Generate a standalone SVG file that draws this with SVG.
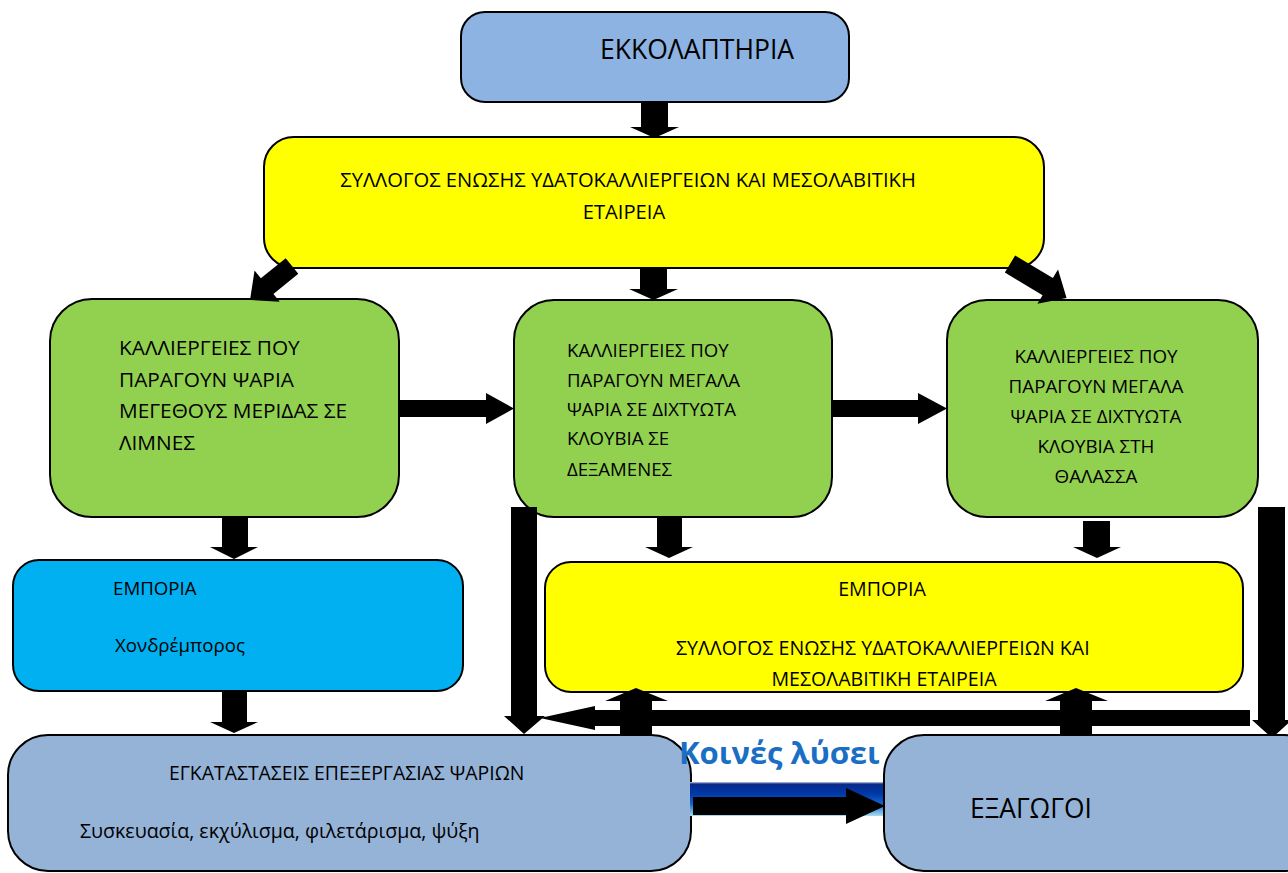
<svg xmlns="http://www.w3.org/2000/svg" width="1288" height="873" viewBox="0 0 1288 873">
<defs>
<style>
.box{stroke:#000;stroke-width:2}
.lb{fill:#8db3e2}
.ye{fill:#ffff00}
.gr{fill:#92d050}
.cy{fill:#00b0f0}
.bl{fill:#95b3d7}
text{font-family:"Open Sans","Noto Sans","DejaVu Sans",sans-serif;fill:#000}
.arr{fill:#000}
</style>
<linearGradient id="bar" x1="0" y1="0" x2="0" y2="1">
<stop offset="0" stop-color="#c8d0e0"/>
<stop offset="0.06" stop-color="#0a2a8a"/>
<stop offset="0.35" stop-color="#0038a8"/>
<stop offset="0.65" stop-color="#1566cc"/>
<stop offset="1" stop-color="#a8dcf0"/>
</linearGradient>
</defs>
<rect width="1288" height="873" fill="#fff"/>

<g id="hatcheries">
<rect class="box lb" x="461" y="12" width="388" height="90" rx="24"/>
<text x="600" y="59" font-size="26.5">ΕΚΚΟΛΑΠΤΗΡΙΑ</text>
</g>

<g id="association">
<rect class="box ye" x="264" y="137" width="780" height="131" rx="30"/>
<text x="628" y="187" font-size="20.2" text-anchor="middle">ΣΥΛΛΟΓΟΣ ΕΝΩΣΗΣ ΥΔΑΤΟΚΑΛΛΙΕΡΓΕΙΩΝ ΚΑΙ ΜΕΣΟΛΑΒΙΤΙΚΗ</text>
<text x="624" y="219" font-size="20.2" text-anchor="middle">ΕΤΑΙΡΕΙΑ</text>
</g>

<g id="farms-lakes">
<rect class="box gr" x="50" y="299" width="349" height="218" rx="42"/>
<text x="119" y="355" font-size="20.8">ΚΑΛΛΙΕΡΓΕΙΕΣ ΠΟΥ</text>
<text x="119" y="387" font-size="20.8">ΠΑΡΑΓΟΥΝ ΨΑΡΙΑ</text>
<text x="119" y="418" font-size="20.8">ΜΕΓΕΘΟΥΣ ΜΕΡΙΔΑΣ ΣΕ</text>
<text x="119" y="450" font-size="20.8">ΛΙΜΝΕΣ</text>
</g>

<g id="farms-tanks">
<rect class="box gr" x="514" y="300" width="318" height="217" rx="40"/>
<text x="567" y="357" font-size="18.6">ΚΑΛΛΙΕΡΓΕΙΕΣ ΠΟΥ</text>
<text x="567" y="387" font-size="18.6">ΠΑΡΑΓΟΥΝ ΜΕΓΑΛΑ</text>
<text x="567" y="416" font-size="18.6">ΨΑΡΙΑ ΣΕ ΔΙΧΤΥΩΤΑ</text>
<text x="567" y="445" font-size="18.6">ΚΛΟΥΒΙΑ ΣΕ</text>
<text x="567" y="476" font-size="18.6">ΔΕΞΑΜΕΝΕΣ</text>
</g>

<g id="farms-sea">
<rect class="box gr" x="947" y="300" width="311" height="217" rx="40"/>
<text x="1096" y="363" font-size="18.8" text-anchor="middle">ΚΑΛΛΙΕΡΓΕΙΕΣ ΠΟΥ</text>
<text x="1096" y="393" font-size="18.8" text-anchor="middle">ΠΑΡΑΓΟΥΝ ΜΕΓΑΛΑ</text>
<text x="1096" y="423" font-size="18.8" text-anchor="middle">ΨΑΡΙΑ ΣΕ ΔΙΧΤΥΩΤΑ</text>
<text x="1096" y="453" font-size="18.8" text-anchor="middle">ΚΛΟΥΒΙΑ ΣΤΗ</text>
<text x="1096" y="483" font-size="18.8" text-anchor="middle">ΘΑΛΑΣΣΑ</text>
</g>

<g id="trade-wholesale">
<rect class="box cy" x="13" y="560" width="450" height="131" rx="26"/>
<text x="113" y="595" font-size="18.7">ΕΜΠΟΡΙΑ</text>
<text x="115" y="652" font-size="18.7">Χονδρέμπορος</text>
</g>

<g id="trade-association">
<rect class="box ye" x="545" y="562" width="698" height="130" rx="26"/>
<text x="882" y="596" font-size="19.6" text-anchor="middle">ΕΜΠΟΡΙΑ</text>
<text x="676" y="655" font-size="19.6">ΣΥΛΛΟΓΟΣ ΕΝΩΣΗΣ ΥΔΑΤΟΚΑΛΛΙΕΡΓΕΙΩΝ ΚΑΙ</text>
<text x="884" y="686" font-size="19.6" text-anchor="middle">ΜΕΣΟΛΑΒΙΤΙΚΗ ΕΤΑΙΡΕΙΑ</text>
</g>

<g id="processing">
<rect class="box bl" x="8" y="735" width="683" height="136" rx="40"/>
<text x="169" y="780" font-size="19.4">ΕΓΚΑΤΑΣΤΑΣΕΙΣ ΕΠΕΞΕΡΓΑΣΙΑΣ ΨΑΡΙΩΝ</text>
<text x="80" y="838" font-size="19.6">Συσκευασία, εκχύλισμα, φιλετάρισμα, ψύξη</text>
</g>

<g id="banner">
<rect x="690" y="782" width="195" height="34" fill="url(#bar)"/>
<text x="679" y="764" font-size="31" font-weight="bold" style="fill:#1a6fc4">Κοινές λύσει</text>
</g>

<g id="connectors">
<polygon class="arr" points="641,102 668,102 668,127 679,127 654.5,138 630,127 641,127"/>
<polygon class="arr" transform="translate(292,266) rotate(141)" points="0,-10 32,-10 32,-20 54,0 32,20 32,10 0,10"/>
<polygon class="arr" points="640,268 667,268 667,289 678,289 653.5,300 629,289 640,289"/>
<polygon class="arr" transform="translate(1010,264) rotate(31)" points="0,-10 44,-10 44,-20 66,0 44,20 44,10 0,10"/>
<polygon class="arr" points="399,400 486,400 486,393 514,408.5 486,424 486,417 399,417"/>
<polygon class="arr" points="832,400 918,400 918,393 947,408.5 918,424 918,417 832,417"/>
<polygon class="arr" points="222,518 248,518 248,547 258,547 234,559 210,547 222,547"/>
<polygon class="arr" points="657,517 682,517 682,547 693,547 669,558 645,547 657,547"/>
<polygon class="arr" points="1083,521 1110,521 1110,547 1121,547 1097,558 1073,547 1083,547"/>
<polygon class="arr" points="222,691 247,691 247,722 258,722 234,733 210,722 222,722"/>
<polygon class="arr" points="511,507 537,507 537,716 545,716 524,734 504,716 511,716"/>
<polygon class="arr" points="1250,710 1250,726 595,726 595,730 540,718 595,706 595,710"/>
<polygon class="arr" points="620,736 652,736 652,701 668,701 636,688 605,701 620,701"/>
<polygon class="arr" points="1060,736 1092,736 1092,701 1108,701 1076,688 1045,701 1060,701"/>
<polygon class="arr" points="1258,507 1285,507 1285,720 1292,720 1272,738 1252,720 1258,720"/>
<polygon class="arr" points="693,797 846,797 846,788 885,806 846,824 846,815 693,815"/>
</g>

<g id="exporters">
<rect class="box bl" x="884" y="735" width="440" height="136" rx="40"/>
<text x="970" y="818" font-size="26.4">ΕΞΑΓΩΓΟΙ</text>
</g>
</svg>
